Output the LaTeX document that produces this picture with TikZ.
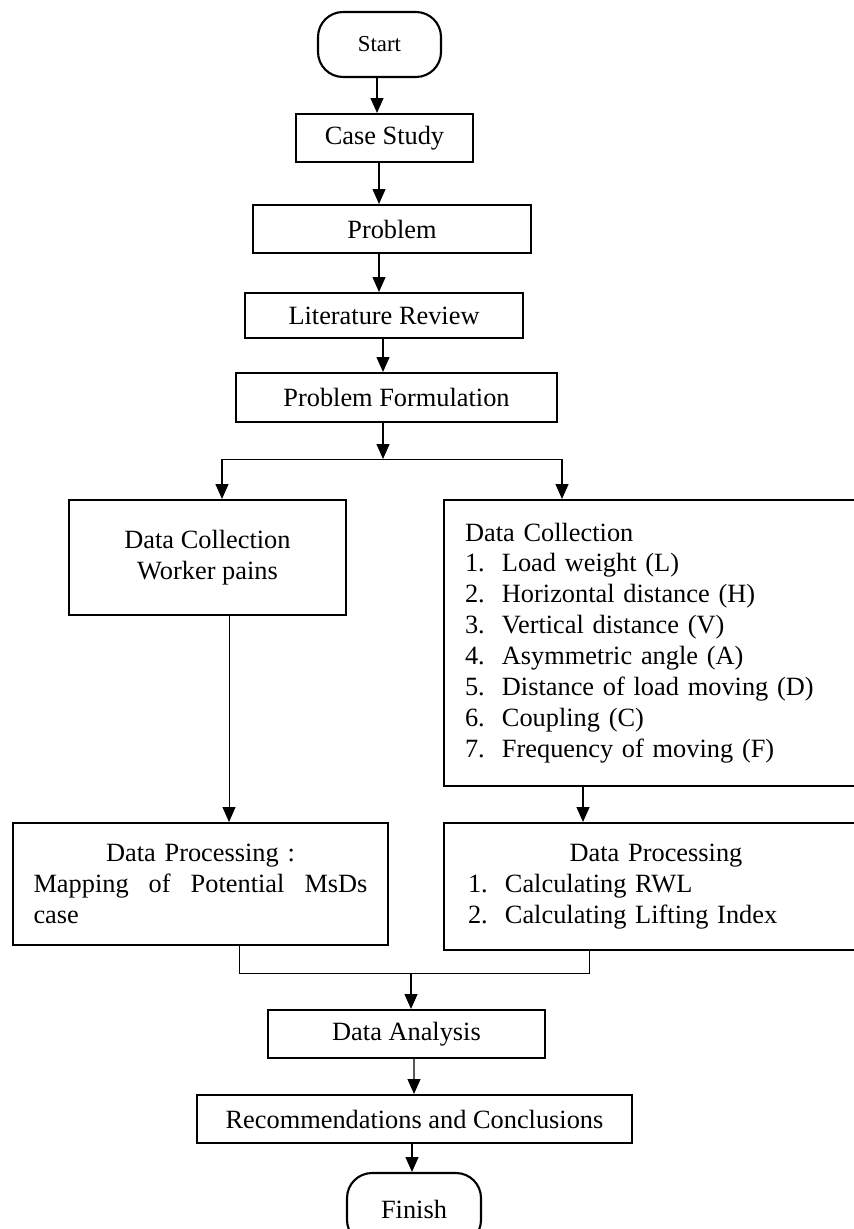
\documentclass[tikz,border=0pt]{standalone}
\usepackage{fontspec}
\setmainfont{Liberation Serif}
\usetikzlibrary{positioning,arrows.meta,calc}
\newcommand{\numitem}[2]{\makebox[21pt][l]{#1.}#2}

\begin{document}
\begin{tikzpicture}[
  x=0.02cm, y=-0.02cm,
  box/.style={
    draw, rectangle, line width=1.2pt, inner sep=0pt,
    font=\fontsize{15}{17.6}\selectfont, align=center
  },
  term/.style={box, rounded corners=0.5cm},
  arr/.style={-{Triangle[length=8.5pt,width=7.4pt]}, line width=0.7pt},
  link/.style={line width=0.5pt}
]
\useasboundingbox (0,0) rectangle (854,1229);

% Main column
\node[term, minimum width=2.46cm, minimum height=1.3cm,
  font=\fontsize{13}{15}\selectfont] (start) at (379.5,44.5) {Start};
\node[box, minimum width=3.54cm, minimum height=0.96cm] (case) at (384.5,138) {Case Study};
\node[box, minimum width=5.56cm, minimum height=0.96cm] (prob) at (392,229) {Problem};
\node[box, minimum width=5.56cm, minimum height=0.9cm] (lit) at (384,315.5) {Literature Review};
\node[box, minimum width=6.42cm, minimum height=0.98cm] (pf) at (396.5,397.5) {Problem Formulation};

% Two branches
\node[box, minimum width=5.54cm, minimum height=2.3cm] (dcl) at (207.5,557.5)
  {Data Collection\\Worker pains};
\node[box, minimum width=8.48cm, minimum height=5.72cm, text width=7.64cm, align=left]
  (dcr) at (656,643)
  {Data Collection\\
   \numitem{1}{Load weight (L)}\\
   \numitem{2}{Horizontal distance (H)}\\
   \numitem{3}{Vertical distance (V)}\\
   \numitem{4}{Asymmetric angle (A)}\\
   \numitem{5}{Distance of load moving (D)}\\
   \numitem{6}{Coupling (C)}\\
   \numitem{7}{Frequency of moving (F)}};
\node[box, minimum width=7.5cm, minimum height=2.44cm, text width=6.68cm]
  (dpl) at (200.5,884)
  {Data Processing :\\
   \makebox[6.68cm][s]{Mapping\hfill of\hfill Potential\hfill MsDs}\\
   \makebox[6.68cm][l]{case}};
\node[box, minimum width=8.48cm, minimum height=2.54cm, text width=7.52cm]
  (dpr) at (656,886.5)
  {Data Processing\\
   \makebox[7.52cm][l]{\numitem{1}{Calculating RWL}}\\
   \makebox[7.52cm][l]{\numitem{2}{Calculating Lifting Index}}};

% Closing steps
\node[box, minimum width=5.54cm, minimum height=0.96cm] (da) at (406.5,1034) {Data Analysis};
\node[box, minimum width=8.7cm, minimum height=0.96cm] (rec) at (414.5,1119)
  {Recommendations and Conclusions};
\node[term, minimum width=2.68cm, minimum height=1.44cm] (fin) at (414,1209) {Finish};

% Junction points
\coordinate (split) at (383,459);
\coordinate (splitL) at (222,459);
\coordinate (splitR) at (562,459);
\coordinate (mergeL) at (239,973);
\coordinate (mergeR) at (589,973);
\coordinate (merge) at (411,973);

% Connectors
\draw[arr] ($(start.south)+(-2.5,0)$) -- ($(case.north)+(-7.5,0)$);
\draw[arr] ($(case.south)+(-5.5,0)$) -- ($(prob.north)+(-13,0)$);
\draw[arr] ($(prob.south)+(-13,0)$) -- ($(lit.north)+(-5,0)$);
\draw[arr] ($(lit.south)+(-1,0)$) -- ($(pf.north)+(-13.5,0)$);
\draw[arr] ($(pf.south)+(-13.5,0)$) -- (split);
\draw[link] (splitL) -- (splitR);
\draw[arr] (splitL) -- (splitL |- dcl.north);
\draw[arr] (splitR) -- (splitR |- dcr.north);
\draw[arr, line width=0.5pt] ($(dcl.south)+(21.5,0)$) -- ($(dpl.north)+(28.5,0)$);
\draw[arr] ($(dcr.south)+(-73,0)$) -- ($(dpr.north)+(-73,0)$);
\draw[link] (dpl.south -| mergeL) -- (mergeL) -- (mergeR) -- (dpr.south -| mergeR);
\draw[arr] (merge) -- (merge |- da.north);
\draw[arr] ($(da.south)+(7.5,0)$) -- ($(rec.north)+(-0.5,0)$);
\draw[arr] ($(rec.south)+(-2.5,0)$) -- ($(fin.north)+(-2,0)$);

\end{tikzpicture}
\end{document}
